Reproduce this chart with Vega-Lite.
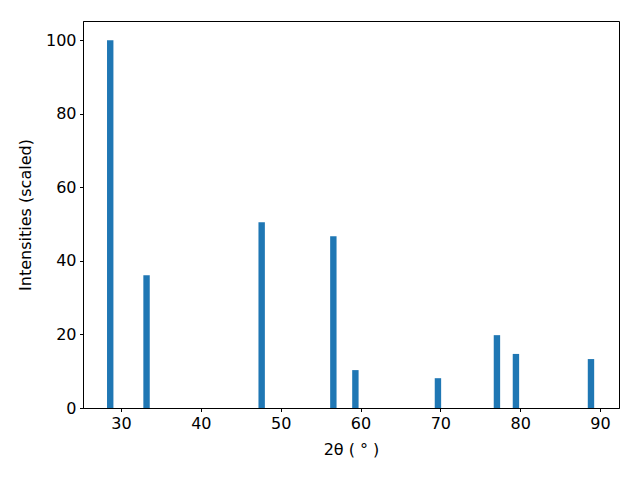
{
  "$schema": "https://vega.github.io/schema/vega-lite/v6.json",
  "width": 536,
  "height": 387,
  "autosize": {"type": "none"},
  "padding": {"left": 83, "top": 21, "right": 21, "bottom": 72},
  "background": "white",
  "config": {
    "view": {"stroke": "black", "strokeWidth": 1},
    "font": "DejaVu Sans",
    "axis": {
      "grid": false,
      "domainColor": "black",
      "tickColor": "black",
      "tickSize": 3.5,
      "labelFontSize": 16,
      "labelColor": "black",
      "titleFontSize": 16,
      "titleFontWeight": "normal",
      "titleColor": "black",
      "labelFont": "DejaVu Sans",
      "titleFont": "DejaVu Sans",
      "labelPadding": 3.5
    }
  },
  "data": {
    "values": [
      {"two_theta": 28.65, "intensity": 100},
      {"two_theta": 33.2, "intensity": 36.1},
      {"two_theta": 47.62, "intensity": 50.5},
      {"two_theta": 56.6, "intensity": 46.7},
      {"two_theta": 59.36, "intensity": 10.3},
      {"two_theta": 69.7, "intensity": 8.1},
      {"two_theta": 77.09, "intensity": 19.8},
      {"two_theta": 79.47, "intensity": 14.7},
      {"two_theta": 88.87, "intensity": 13.3}
    ]
  },
  "mark": {"type": "bar", "color": "#1f77b4", "size": 6.4},
  "encoding": {
    "x": {
      "field": "two_theta",
      "type": "quantitative",
      "scale": {"domain": [25.24, 92.38], "nice": false, "zero": false, "padding": 0},
      "axis": {"values": [30, 40, 50, 60, 70, 80, 90], "title": "2θ ( ° )", "titlePadding": 10}
    },
    "y": {
      "field": "intensity",
      "type": "quantitative",
      "scale": {"domain": [0, 105.2], "nice": false, "padding": 0},
      "axis": {"values": [0, 20, 40, 60, 80, 100], "title": "Intensities (scaled)", "titlePadding": 12}
    }
  }
}
